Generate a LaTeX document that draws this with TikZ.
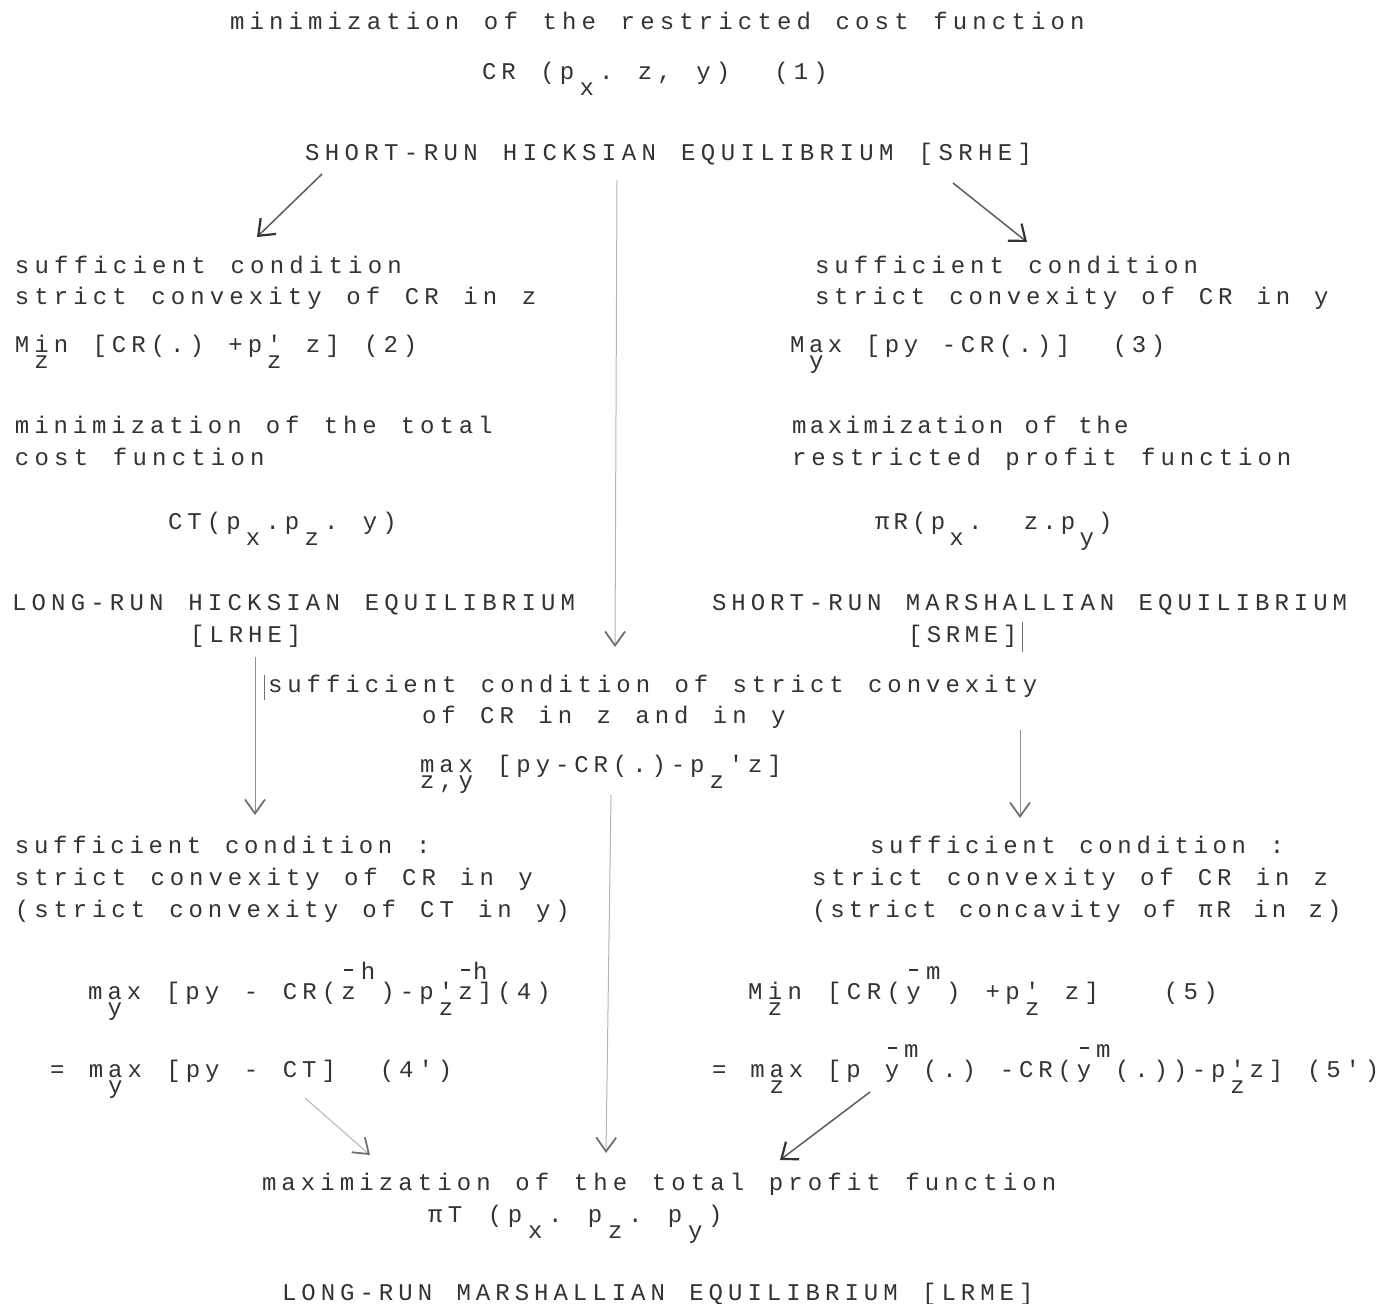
\documentclass[tikz,border=0pt]{standalone}
\usepackage{fontspec}
\usetikzlibrary{arrows.meta}
\newfontfamily\twfont{Liberation Mono}
\definecolor{ink}{HTML}{333333}
\definecolor{faint}{HTML}{B4B4B4}
% fixed-pitch typewriter cells: every token (or braced group) takes one cell
\makeatletter
\newlength\pitch
\def\cells@end{\cells@end}
\newcommand\cells[2][9.7pt]{\setlength\pitch{#1}\cells@loop#2\cells@end}
\def\cells@loop{\futurelet\cells@next\cells@check}
\def\cells@check{%
  \ifx\cells@next\cells@end \let\cells@go\@gobble
  \else\ifx\cells@next\@sptoken \let\cells@go\cells@space
  \else \let\cells@go\cells@one \fi\fi
  \cells@go}
\def\cells@one#1{\makebox[\pitch][l]{#1}\cells@loop}
\expandafter\def\expandafter\cells@space\space{\hspace*{\pitch}\cells@loop}
\makeatother
% lowered / raised characters, stacked cells, barred letters
\newcommand\lo[1]{\raisebox{-8pt}{#1}}
\newcommand\hi[1]{\raisebox{10pt}{#1}}
\newcommand\under[2]{\rlap{\lo{#2}}#1}
\newcommand\ovr[1]{\rlap{\hspace{1.5pt}\rule[14pt]{4.5pt}{0.9pt}}#1}
\newcommand\ovrhi[2]{\rlap{\hspace{0.75\pitch}\hi{#2}}\ovr{#1}}
\newcommand\tw{\fontsize{12pt}{14pt}\twfont}
\begin{document}
\begin{tikzpicture}[x=0.5pt,y=-0.5pt,
  txt/.style={anchor=base west,inner sep=0pt,outer sep=0pt,font=\tw,text=ink},
  darrow/.style={draw=ink!80,line width=0.75pt,-{Straight Barb[length=7pt,width=11pt,line width=1.1pt,color=ink]}},
  farrow/.style={draw=faint,line width=0.5pt,-{Straight Barb[length=7pt,width=10pt,line width=0.9pt,color=ink!70]}},
  rule/.style={draw=ink!70,line width=0.5pt}]
\useasboundingbox (0,0) rectangle (1383,1303);

% ---- top: restricted cost function
\node[txt] (t1) at (230,29) {\cells[9.77pt]{minimization of the restricted cost function}};
\node[txt] (t2) at (482,79) {\cells[9.75pt]{CR (p{\lo{x}}. z, y)~~(1)}};
\node[txt] (srhe) at (305,160) {\cells[9.9pt]{SHORT-RUN HICKSIAN EQUILIBRIUM [SRHE]}};

% ---- left: total cost
\node[txt] (l1) at (15,273) {\cells[9.8pt]{sufficient condition}};
\node[txt] (l2) at (15,304) {\cells[9.75pt]{strict convexity of CR in z}};
\node[txt] (l3) at (15,352) {\cells[9.7pt]{M{\under{i}{z}}n [CR(.) +p{\under{'}{z}} z] (2)}};
\node[txt] (l4) at (15,433) {\cells[9.65pt]{minimization of the total}};
\node[txt] (l5) at (15,465) {\cells[9.8pt]{cost function}};
\node[txt] (l6) at (168,529) {\cells[9.75pt]{CT(p{\lo{x}}.p{\lo{z}}. y)}};
\node[txt] (lrhe) at (12,610) {\cells[9.8pt]{LONG-RUN HICKSIAN EQUILIBRIUM}};
\node[txt] (lrhe2) at (190,642) {\cells{[LRHE]}};

% ---- right: restricted profit
\node[txt] (r1) at (815,273) {\cells[9.7pt]{sufficient condition}};
\node[txt] (r2) at (815,304) {\cells[9.6pt]{strict convexity of CR in y}};
\node[txt] (r3) at (790,352) {\cells[9.5pt]{M{\under{a}{y}}x [py -CR(.)]~~(3)}};
\node[txt] (r4) at (792,433) {\cells[8.95pt]{maximization of the}};
\node[txt] (r5) at (792,465) {\cells[9.7pt]{restricted profit function}};
\node[txt] (r6) at (875,529) {\cells[9.3pt]{πR(p{\lo{x}}.~ z.p{\lo{y}})}};
\node[txt] (srme) at (712,610) {\cells[9.7pt]{SHORT-RUN MARSHALLIAN EQUILIBRIUM}};
\node[txt] (srme2) at (908,642) {\cells[9.5pt]{[SRME]}};

% ---- middle: joint condition
\node[txt] (m1) at (268,692) {\cells[9.68pt]{sufficient condition of strict convexity}};
\node[txt] (m2) at (422,723) {\cells[9.7pt]{of CR in z and in y}};
\node[txt] (m3) at (420,772) {\cells[9.65pt]{{\under{m}{z}}{\under{a}{,}}{\under{x}{y}} [py-CR(.)-p{\lo{z}}'z]}};

% ---- lower left
\node[txt] (ll1) at (15,853) {\cells[9.55pt]{sufficient condition :}};
\node[txt] (ll2) at (15,885) {\cells[9.68pt]{strict convexity of CR in y}};
\node[txt] (ll3) at (15,917) {\cells[9.65pt]{(strict convexity of CT in y)}};
\node[txt] (ll4) at (88,999) {\cells[9.75pt]{m{\under{a}{y}}x [py - CR({\ovr{z}}{\hi{h}})-p{\under{'}{z}}{\ovrhi{z}{h}}](4)}};
\node[txt] (ll5) at (50,1077) {\cells[9.7pt]{= m{\under{a}{y}}x [py - CT]~~(4')}};

% ---- lower right
\node[txt] (lr1) at (870,853) {\cells[9.52pt]{sufficient condition :}};
\node[txt] (lr2) at (812,885) {\cells[9.65pt]{strict convexity of CR in z}};
\node[txt] (lr3) at (812,917) {\cells[9.2pt]{(strict concavity of πR in z)}};
\node[txt] (lr4) at (748,999) {\cells[9.9pt]{M{\under{i}{z}}n [CR({\ovr{y}}{\hi{m}}) +p{\under{'}{z}} z]~~~(5)}};
\node[txt] (lr5) at (712,1077) {\cells[9.6pt]{= m{\under{a}{z}}x [p {\ovr{y}}{\hi{m}}(.) -CR({\ovr{y}}{\hi{m}}(.))-p{\under{'}{z}}z] (5')}};

% ---- bottom: total profit
\node[txt] (b1) at (262,1190) {\cells[9.75pt]{maximization of the total profit function}};
\node[txt] (b2) at (428,1222) {\cells[10pt]{πT (p{\lo{x}}. p{\lo{z}}. p{\lo{y}})}};
\node[txt] (lrme) at (282,1300) {\cells[9.7pt]{LONG-RUN MARSHALLIAN EQUILIBRIUM [LRME]}};

% ---- connector end points
\coordinate (a1s) at (322,174);  \coordinate (a1e) at (257,237);
\coordinate (a2s) at (953,183);  \coordinate (a2e) at (1027,242);
\coordinate (a3s) at (617,180);  \coordinate (a3e) at (615,647);
\coordinate (a4s) at (255,657);  \coordinate (a4e) at (255,815);
\coordinate (a5s) at (1020,730); \coordinate (a5e) at (1020,818);
\coordinate (a6s) at (611,795);  \coordinate (a6e) at (606,1153);
\coordinate (a7s) at (305,1098); \coordinate (a7e) at (370,1155);
\coordinate (a8s) at (870,1092); \coordinate (a8e) at (780,1160);
\coordinate (k1s) at (1022,622); \coordinate (k1e) at (1022,652);
\coordinate (k2s) at (264,675);  \coordinate (k2e) at (264,700);

\draw[darrow] (a1s) -- (a1e);
\draw[darrow] (a2s) -- (a2e);
\draw[farrow] (a3s) -- (a3e);
\draw[farrow,draw=ink!55] (a4s) -- (a4e);
\draw[farrow,draw=ink!55] (a5s) -- (a5e);
\draw[farrow] (a6s) -- (a6e);
\draw[farrow] (a7s) -- (a7e);
\draw[darrow] (a8s) -- (a8e);
\draw[rule] (k1s) -- (k1e);
\draw[rule] (k2s) -- (k2e);
\end{tikzpicture}
\end{document}
